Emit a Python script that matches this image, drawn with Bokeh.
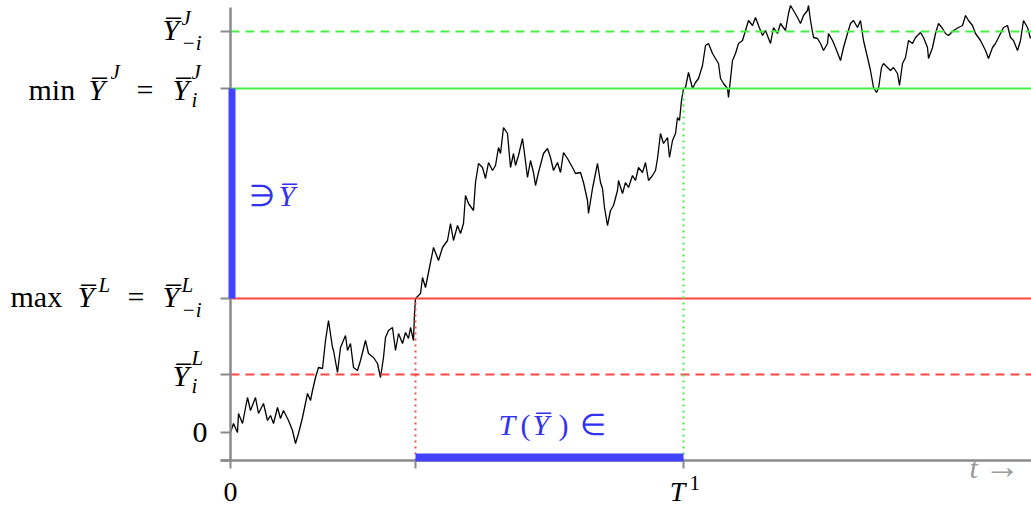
from bokeh.plotting import figure
from bokeh.models import ColumnDataSource
from bokeh.core.properties import value
from bokeh.embed import file_html
from bokeh.resources import INLINE

# ---------------- data ----------------
# levels (Y axis values)
y_zero = 0.0
y_L_i = 0.58        # \bar Y^L_i
y_L_minus_i = 1.34  # max \bar Y^L = \bar Y^L_{-i}
y_J_i = 3.44        # min \bar Y^J = \bar Y^J_i
y_J_minus_i = 4.01  # \bar Y^J_{-i}
y_tick_values = [y_zero, y_L_i, y_L_minus_i, y_J_i, y_J_minus_i]

# times
t_zero = 0.0
t_red = 1.85   # first hit of max \bar Y^L
t_T1 = 4.53    # T^1
x_tick_values = [t_zero, t_red, t_T1]

# axis extents
axis_y_min, axis_y_max = -0.28, 4.25
axis_x_min, axis_x_max = -0.10, 8.01

# sample path
path_t_1 = [0.00,0.03,0.07,0.08,0.12,0.17,0.20,0.25,0.28,0.33,0.37,0.40,0.43,0.47,0.50,0.53,0.58,0.62,0.65,0.68,
            0.72,0.77,0.80,0.82,0.85,0.88,0.92,0.95,0.98,1.02,1.03,1.07,1.10,1.15,1.17,1.20,1.23,1.27,1.30,1.35,
            1.38,1.43,1.47,1.50,1.53,1.55,1.58,1.62,1.65,1.68,1.72,1.75,1.78,1.80,1.83,1.84,1.85,1.90]
path_y_1 = [0.00,0.09,0.00,0.19,0.09,0.35,0.22,0.35,0.19,0.29,0.12,0.17,0.09,0.25,0.14,0.22,0.12,0.02,-0.11,-0.01,
            0.15,0.39,0.32,0.42,0.55,0.65,0.64,0.92,1.12,0.85,0.82,0.60,0.85,0.97,0.82,0.89,0.65,0.62,0.72,0.92,
            0.79,0.75,0.69,0.55,0.75,0.95,1.02,1.05,0.82,0.99,0.89,1.00,0.94,1.05,0.92,1.19,1.34,1.39]
path_t_2 = [1.92,1.95,1.98,2.03,2.08,2.12,2.17,2.20,2.23,2.27,2.30,2.33,2.35,2.38,2.43,2.45,2.48,2.52,2.55,2.58,
            2.62,2.65,2.68,2.70,2.73,2.77,2.80,2.83,2.85,2.88,2.92,2.94,2.97,3.00,3.03,3.05,3.08,3.13,3.17,3.20,
            3.23,3.27,3.30,3.33,3.37,3.42,3.45,3.50,3.53,3.57,3.58,3.62,3.65,3.67,3.70,3.72,3.74,3.77,3.80,3.83,
            3.87,3.88,3.92,3.95,3.98,4.02,4.05,4.08,4.12,4.15,4.18,4.22,4.25,4.27,4.30,4.33,4.37,4.39,4.42,4.45,
            4.47,4.49,4.51,4.53]
path_y_2 = [1.55,1.45,1.60,1.85,1.72,1.85,1.92,2.09,1.92,2.07,1.99,2.09,2.37,2.29,2.22,2.50,2.69,2.65,2.54,2.70,
            2.62,2.67,2.85,2.79,3.05,2.99,2.65,2.79,2.67,2.77,2.94,2.79,2.55,2.72,2.60,2.47,2.60,2.79,2.84,2.75,
            2.62,2.70,2.60,2.80,2.74,2.65,2.59,2.60,2.50,2.32,2.19,2.44,2.59,2.69,2.50,2.44,2.25,2.07,2.22,2.27,
            2.42,2.52,2.39,2.50,2.45,2.57,2.52,2.65,2.60,2.70,2.52,2.57,2.62,2.74,2.99,2.89,2.95,2.75,2.92,2.99,
            3.15,3.12,3.32,3.44]
path_t_3 = [4.55,4.58,4.62,4.65,4.68,4.72,4.75,4.78,4.82,4.85,4.88,4.90,4.93,4.97,4.98,5.02,5.05,5.08,5.12,5.15,
            5.18,5.22,5.25,5.28,5.32,5.35,5.40,5.43,5.47,5.50,5.55,5.58,5.60,5.63,5.67,5.70,5.73,5.77,5.78,5.80,
            5.83,5.87,5.90,5.93,5.97,5.98,6.02,6.05,6.10,6.13,6.17,6.20,6.23,6.27,6.30,6.33,6.37,6.40,6.43,6.46,
            6.48,6.51,6.53,6.57,6.60,6.63,6.67,6.69,6.72,6.75,6.78,6.82,6.85,6.90,6.93,6.97,6.98,7.02,7.05,7.08,
            7.12,7.15,7.18,7.23,7.28,7.32,7.35,7.38,7.42,7.45,7.50,7.55,7.58,7.62,7.65,7.68,7.73,7.77,7.80,7.83,
            7.87,7.90,7.93,7.97,8.00]
path_y_3 = [3.45,3.60,3.44,3.50,3.54,3.67,3.87,3.89,3.79,3.74,3.69,3.54,3.49,3.44,3.35,3.72,3.79,3.89,3.92,4.02,
            4.12,4.07,4.15,4.07,3.97,4.02,3.89,4.05,3.99,4.09,4.02,4.19,4.27,4.22,4.15,4.09,4.17,4.22,4.27,4.12,
            3.95,3.94,3.89,3.82,3.89,3.99,3.92,3.85,3.72,3.85,3.99,4.09,4.12,4.05,4.12,3.92,3.75,3.62,3.45,3.40,
            3.44,3.65,3.69,3.65,3.62,3.65,3.59,3.47,3.69,3.75,3.92,3.89,3.95,4.00,3.95,3.85,3.74,3.85,3.99,4.09,
            4.04,3.99,3.97,4.02,4.05,4.07,4.17,4.12,4.07,3.99,3.92,3.82,3.74,3.85,3.89,3.95,4.05,4.07,3.95,3.92,
            3.82,3.92,4.12,4.05,3.94]
path_t = path_t_1 + path_t_2 + path_t_3
path_y = path_y_1 + path_y_2 + path_y_3
assert len(path_t) == len(path_y)

# ---------------- styles ----------------
GREEN = "#47ef47"
RED = "#ff4646"
BLUE = "#4242ff"
BLUE_TXT = "#3232f5"
GRAY = "#8a8a8a"
FONT = value("Liberation Serif")
OV = "\u0305"  # combining overline
MAIN = 30
SMALL = 21

p = figure(width=1031, height=509, x_range=(-2.30, 8.01), y_range=(-0.77, 4.32),
           output_backend="svg", toolbar_location=None, min_border=0,
           x_axis_type=None, y_axis_type=None)
p.outline_line_color = None
p.background_fill_color = "white"
p.border_fill_color = "white"

# sample path
p.line(path_t, path_y, line_color="black", line_width=1.3)

# level lines
p.segment(x0=[t_zero], y0=[y_J_minus_i], x1=[axis_x_max], y1=[y_J_minus_i],
          line_color=GREEN, line_width=2, line_dash="9 6")
p.segment(x0=[t_zero], y0=[y_J_i], x1=[axis_x_max], y1=[y_J_i],
          line_color=GREEN, line_width=2)
p.segment(x0=[t_zero], y0=[y_L_minus_i], x1=[axis_x_max], y1=[y_L_minus_i],
          line_color=RED, line_width=2)
p.segment(x0=[t_zero], y0=[y_L_i], x1=[axis_x_max], y1=[y_L_i],
          line_color=RED, line_width=2, line_dash="9 6")

# dotted verticals
p.segment(x0=[t_red], y0=[axis_y_min], x1=[t_red], y1=[y_L_minus_i],
          line_color=RED, line_width=2, line_dash="2 4")
p.segment(x0=[t_T1], y0=[axis_y_min], x1=[t_T1], y1=[y_J_i],
          line_color=GREEN, line_width=2, line_dash="2 4")

# axes (drawn by hand so that labels can be composed)
p.segment(x0=[t_zero], y0=[axis_y_min], x1=[t_zero], y1=[axis_y_max],
          line_color=GRAY, line_width=2.5)
p.segment(x0=[axis_x_min], y0=[axis_y_min], x1=[axis_x_max], y1=[axis_y_min],
          line_color=GRAY, line_width=2.5)
yt = [axis_y_min] + y_tick_values
p.segment(x0=[axis_x_min] * len(yt), y0=yt, x1=[t_zero] * len(yt), y1=yt,
          line_color=GRAY, line_width=2)
p.segment(x0=x_tick_values, y0=[axis_y_min] * 3, x1=x_tick_values, y1=[axis_y_min - 0.08] * 3,
          line_color=GRAY, line_width=2)

# blue intervals
p.segment(x0=[0.015], y0=[y_L_minus_i], x1=[0.015], y1=[y_J_i],
          line_color=BLUE, line_width=7, line_cap="butt")
p.segment(x0=[t_red], y0=[axis_y_min + 0.03], x1=[t_T1], y1=[axis_y_min + 0.03],
          line_color=BLUE, line_width=8, line_cap="butt")

# ---------------- texts ----------------
parts = dict(x=[], y=[], text=[], dx=[], dy=[], style=[], size=[], color=[], align=[])


def add(xd, yd, txt, dx, dy, style="italic", size=MAIN, color="black", align="left"):
    # dy is the wanted baseline offset (px, downwards); correct for svg text placement
    corr = round(0.37 * size)
    parts["x"].append(xd); parts["y"].append(yd); parts["text"].append(txt)
    parts["dx"].append(dx); parts["dy"].append(dy - corr); parts["style"].append(style)
    parts["size"].append(f"{size}px"); parts["color"].append(color); parts["align"].append(align)


# \bar Y^J_{-i}
add(0, y_J_minus_i, "Y" + OV, -68, 9)
add(0, y_J_minus_i, "J", -49, -6, size=SMALL)
add(0, y_J_minus_i, "\u2212i", -49, 19, size=SMALL)
# min \bar Y^J = \bar Y^J_i
add(0, y_J_i, "min", -202, 12, style="normal")
add(0, y_J_i, "Y" + OV, -142, 12)
add(0, y_J_i, "J", -120, -9, size=SMALL)
add(0, y_J_i, "=", -94, 12, style="normal")
add(0, y_J_i, "Y" + OV, -58, 12)
add(0, y_J_i, "J", -39, -9, size=SMALL)
add(0, y_J_i, "i", -39, 19, size=SMALL)
# max \bar Y^L = \bar Y^L_{-i}
add(0, y_L_minus_i, "max", -220, 9, style="normal")
add(0, y_L_minus_i, "Y" + OV, -153, 9)
add(0, y_L_minus_i, "L", -132, -6, size=SMALL)
add(0, y_L_minus_i, "=", -103, 9, style="normal")
add(0, y_L_minus_i, "Y" + OV, -68, 9)
add(0, y_L_minus_i, "L", -49, -6, size=SMALL)
add(0, y_L_minus_i, "\u2212i", -49, 19, size=SMALL)
# \bar Y^L_i
add(0, y_L_i, "Y" + OV, -58, 12)
add(0, y_L_i, "L", -39, -9, size=SMALL)
add(0, y_L_i, "i", -39, 19, size=SMALL)
# 0
add(0, y_zero, "0", -23, 11, style="normal", align="right")
# x labels
add(t_zero, axis_y_min, "0", 0, 41, style="normal", align="center", size=28)
add(t_T1, axis_y_min, "T", -6, 41, align="center", size=28)
add(t_T1, axis_y_min, "1", 6, 30, style="normal", size=SMALL)
# blue annotations
ymid = (y_L_minus_i + y_J_i) / 2
add(t_zero, ymid, "\u220b", 18, 13, style="normal", color=BLUE_TXT)
add(t_zero, ymid, "Y" + OV, 48, 13, color=BLUE_TXT)
tmid = (t_red + t_T1) / 2
add(tmid, axis_y_min, "T", -51, -25, color=BLUE_TXT)
add(tmid, axis_y_min, "(", -29, -25, style="normal", color=BLUE_TXT)
add(tmid, axis_y_min, "Y" + OV, -17, -25, color=BLUE_TXT)
add(tmid, axis_y_min, ")", 9, -25, style="normal", color=BLUE_TXT)
add(tmid, axis_y_min, "\u2208", 30, -25, style="normal", color=BLUE_TXT)
# t ->
add(axis_x_max, axis_y_min, "t", -62, 18, color="#9a9a9a", size=30)
add(axis_x_max, axis_y_min, "\u2192", -47, 18, style="normal", color="#9a9a9a", size=36)

src = ColumnDataSource(parts)
p.text(x="x", y="y", text="text", x_offset="dx", y_offset="dy", source=src,
       text_font=FONT, text_font_style="style", text_font_size="size",
       text_color="color", text_align="align", text_baseline="alphabetic")

open("out.html", "w").write(file_html(p, INLINE))
